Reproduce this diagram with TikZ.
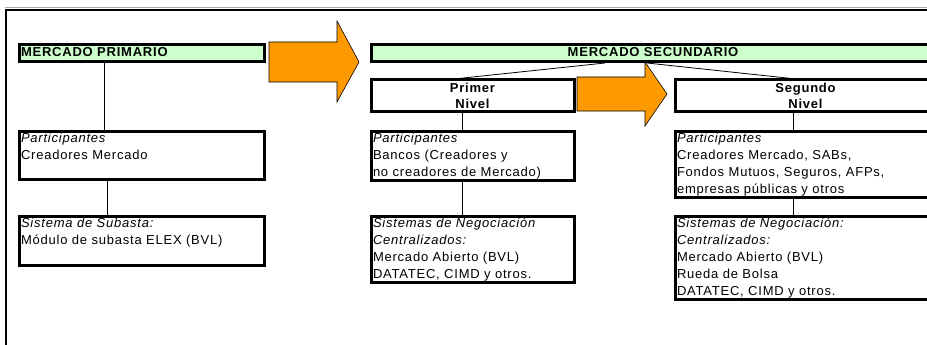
\documentclass[tikz,border=0pt]{standalone}
\usepackage{fontspec}
\newfontfamily\chartfont{Liberation Sans}[LetterSpace=6]
\usepackage{xcolor}
\definecolor{mktgreen}{HTML}{CCFFCC}
\definecolor{mktorange}{HTML}{FF9900}

\begin{document}
\begin{tikzpicture}[x=1pt, y=-1pt,
  title/.style={draw, fill=mktgreen, line width=3pt, inner sep=2pt, minimum height=16pt,
    text height=9.5pt, text depth=3pt, anchor=north west,
    font=\chartfont\bfseries\fontsize{13}{16}\selectfont},
  level/.style={draw, line width=3pt, inner sep=2pt, minimum height=31pt, align=center,
    anchor=north west, font=\chartfont\bfseries\fontsize{13}{16}\selectfont},
  info/.style={draw, line width=3pt, inner sep=2pt, anchor=north west,
    font=\chartfont\fontsize{13}{17}\selectfont},
  link/.style={line width=0.8pt},
  bigarrow/.style={fill=mktorange, draw=black, line width=0.6pt, line join=miter}]
\useasboundingbox (0,0) rectangle (927,345);
\clip (0,0) rectangle (927,345);

% ----------------- Frame -----------------
\draw[black!35, line width=1.5pt] (5,7.4) -- (927,7.4);
\draw[line width=2pt] (6.2,345) -- (6.2,9.7) -- (927,9.7);

% ----------------- Primary market -----------------
\node (prim) [title, text width=241pt, align=left] at (17.5,43.5) {MERCADO PRIMARIO};

\node (partL) [info] at (17.5,129.5) {
  \begin{minipage}[c][44pt][t]{241pt}
  \textit{Participantes}\\
  Creadores Mercado
  \end{minipage}
};

\node (sisL) [info] at (17.5,214.5) {
  \begin{minipage}[c][45pt][t]{241pt}
  \textit{Sistema de Subasta:}\\
  Módulo de subasta ELEX (BVL)
  \end{minipage}
};

% ----------------- Secondary market -----------------
\node (sec) [title, text width=560pt, align=center] at (369.5,43.5) {MERCADO SECUNDARIO};

\node (nivel1) [level, minimum width=203pt] at (369.5,78.5) {Primer\\Nivel};
\node (nivel2) [level, minimum width=261pt] at (673.5,78.5) {Segundo\\Nivel};

\node (partM) [info] at (369.5,129.5) {
  \begin{minipage}[c][45pt][t]{199pt}
  \textit{Participantes}\\
  Bancos (Creadores y\\
  no creadores de Mercado)
  \end{minipage}
};

\node (sisM) [info] at (369.5,214.5) {
  \begin{minipage}[c][62pt][t]{199pt}
  \textit{Sistemas de Negociación}\\
  \textit{Centralizados:}\\
  Mercado Abierto (BVL)\\
  DATATEC, CIMD y otros.
  \end{minipage}
};

\node (partR) [info] at (673.5,129.5) {
  \begin{minipage}[c][62pt][t]{257pt}
  \textit{Participantes}\\
  Creadores Mercado, SABs,\\
  Fondos Mutuos, Seguros, AFPs,\\
  empresas públicas y otros
  \end{minipage}
};

\node (sisR) [info] at (673.5,214.5) {
  \begin{minipage}[c][79pt][t]{257pt}
  \textit{Sistemas de Negociación:}\\
  \textit{Centralizados:}\\
  Mercado Abierto (BVL)\\
  Rueda de Bolsa\\
  DATATEC, CIMD y otros.
  \end{minipage}
};

% ----------------- Block arrows -----------------
\draw[bigarrow] (269,42) -- (337,42) -- (337,21) -- (359,62) -- (337,102) -- (337,82) -- (269,82) -- cycle;
\draw[bigarrow] (577,77) -- (645,77) -- (645,62) -- (667,94) -- (645,126) -- (645,111) -- (577,111) -- cycle;

% ----------------- Links -----------------
\draw[link] ([xshift=-37pt]prim.south) -- ([xshift=-37pt]partL.north);
\draw[link] ([xshift=-34pt]partL.south) -- ([xshift=-34pt]sisL.north);

\draw[link] ([xshift=-48pt]sec.south) -- ([xshift=-14pt]nivel1.north);
\draw[link] ([xshift=-6pt]sec.south) -- ([xshift=-14pt]nivel2.north);

\draw[link] ([xshift=-10pt]nivel1.south) -- ([xshift=-10pt]partM.north);
\draw[link] ([xshift=-10pt]partM.south) -- ([xshift=-10pt]sisM.north);

\draw[link] ([xshift=-12pt]nivel2.south) -- ([xshift=-12pt]partR.north);
\draw[link] ([xshift=-12pt]partR.south) -- ([xshift=-12pt]sisR.north);

\end{tikzpicture}
\end{document}
